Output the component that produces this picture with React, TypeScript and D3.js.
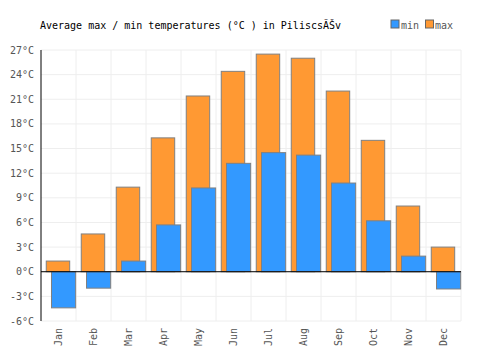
import React from "react";
import * as d3 from "d3";

const months = ["Jan","Feb","Mar","Apr","May","Jun","Jul","Aug","Sep","Oct","Nov","Dec"];
const maxTemps = [1.3, 4.6, 10.3, 16.3, 21.4, 24.4, 26.5, 26.0, 22.0, 16.0, 8.0, 3.0];
const minTemps = [-4.4, -2.0, 1.3, 5.7, 10.2, 13.2, 14.5, 14.2, 10.8, 6.2, 1.9, -2.1];
const yTicks = [-6, -3, 0, 3, 6, 9, 12, 15, 18, 21, 24, 27];
const title = "Average max / min temperatures (°C ) in PiliscsÃŠv";

const W = 500, H = 350;
const left = 41, right = 461, top = 50, bottom = 321;
const font = "'DejaVu Sans Mono', monospace";

export default function App() {
  const x = d3.scaleBand<string>().domain(months).range([left, right]);
  const y = d3.scaleLinear().domain([-6, 27]).range([bottom, top]);
  const bw = x.bandwidth();
  return (
    <svg width={W} height={H} style={{ position: "absolute", left: 0, top: 0 }} fontFamily={font}>
      <rect width={W} height={H} fill="#fff" />
      {yTicks.map(t => (
        <line key={"gy" + t} x1={left} x2={right} y1={y(t)} y2={y(t)} stroke="#eeeeee" strokeWidth={1} />
      ))}
      {months.map((m, i) => (
        <line key={"gx" + m} x1={x(m)! + bw} x2={x(m)! + bw} y1={top} y2={bottom} stroke="#eeeeee" strokeWidth={1} />
      ))}
      {months.map((m, i) => {
        const v = maxTemps[i];
        return (
          <rect key={"mx" + m} x={x(m)! + bw * 0.15} width={bw * 0.67}
            y={Math.min(y(v), y(0))} height={Math.abs(y(v) - y(0))}
            fill="#ff9933" stroke="#808080" strokeWidth={1} />
        );
      })}
      {months.map((m, i) => {
        const v = minTemps[i];
        return (
          <rect key={"mn" + m} x={x(m)! + bw * 0.3} width={bw * 0.69}
            y={Math.min(y(v), y(0))} height={Math.abs(y(v) - y(0))}
            fill="#3399ff" stroke="#808080" strokeWidth={1} />
        );
      })}
      <line x1={left} x2={right} y1={y(0)} y2={y(0)} stroke="#000" strokeWidth={1} />
      <line x1={left} x2={left} y1={top} y2={bottom} stroke="#000" strokeWidth={1} />
      {yTicks.map(t => (
        <text key={"ty" + t} x={left - 7} y={y(t)} dy="0.35em" textAnchor="end" fontSize={10} fill="#555">
          {t}°C
        </text>
      ))}
      {months.map(m => {
        const cx = x(m)! + bw / 2;
        return (
          <text key={"tx" + m} transform={`translate(${cx},${bottom + 7}) rotate(-90)`} dy="0.35em"
            textAnchor="end" fontSize={10} fill="#555">{m}</text>
        );
      })}
      <text x={40} y={25} dy="0.35em" fontSize={10} fill="#000">{title}</text>
      <rect x={391} y={20} width={8} height={8} fill="#3399ff" stroke="#666" strokeWidth={1} />
      <text x={401} y={25} dy="0.35em" fontSize={10} fill="#555">min</text>
      <rect x={425.5} y={20} width={8} height={8} fill="#ff9933" stroke="#666" strokeWidth={1} />
      <text x={435} y={25} dy="0.35em" fontSize={10} fill="#555">max</text>
    </svg>
  );
}
